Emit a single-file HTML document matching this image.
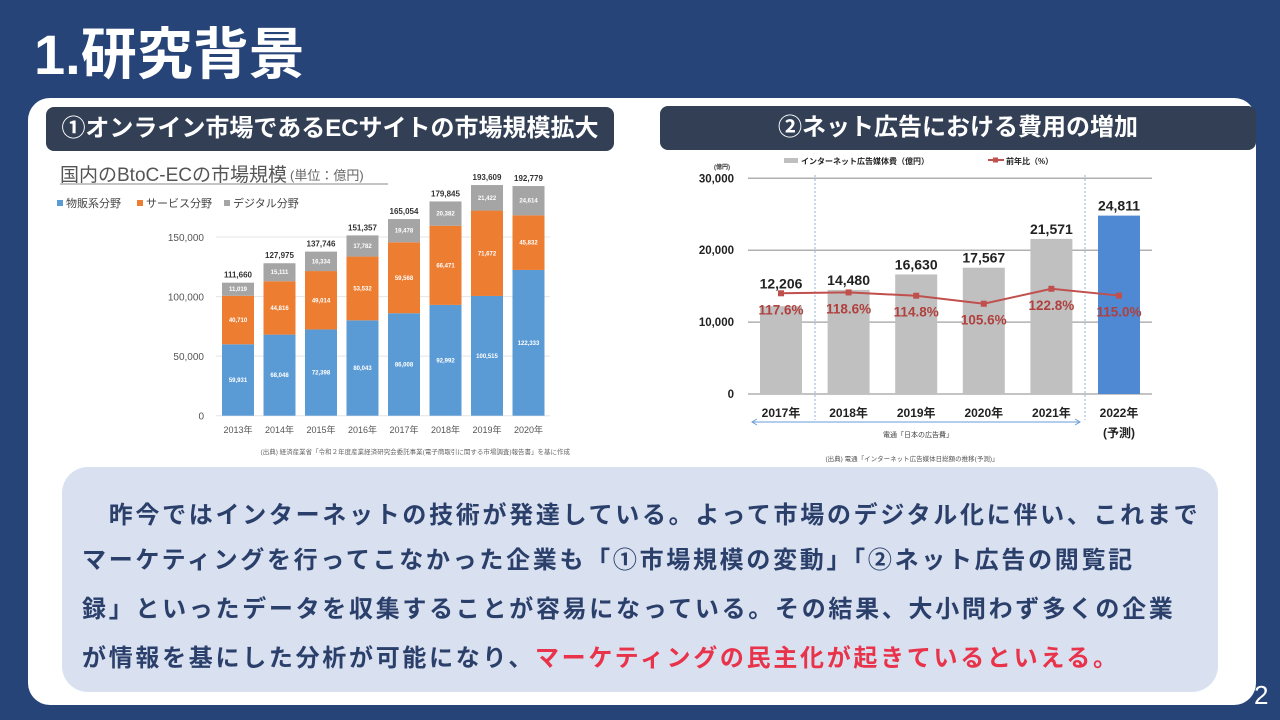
<!DOCTYPE html>
<html><head><meta charset="utf-8">
<style>
body{margin:0;width:1280px;height:720px;background:#264478;overflow:hidden;position:relative;font-family:"Liberation Sans","Noto Sans CJK JP",sans-serif;}
.abs{position:absolute;}
#title{left:34px;top:10px;color:#fff;font-size:56px;font-weight:bold;letter-spacing:0px;}
#panel{left:28px;top:98px;width:1228px;height:607px;background:#fff;border-radius:22px;}
.hdr{background:#323f54;color:#fff;font-size:24px;font-weight:bold;border-radius:8px;text-align:center;line-height:44px;}
#textbox{left:62px;top:467px;width:1156px;height:225px;background:#d9e1f0;border-radius:26px;}
.line{position:absolute;left:20px;font-size:24px;font-weight:bold;color:#2b3f6b;letter-spacing:2.7px;white-space:nowrap;}
.red{color:#e8334a;}
#pnum{left:1254px;top:680px;color:#fff;font-size:26px;}
svg text{font-family:"Liberation Sans","Noto Sans CJK JP",sans-serif;}
</style></head><body>
<div id="title" class="abs">1.研究背景</div>
<div id="panel" class="abs"></div>
<div class="abs hdr" style="left:46px;top:107px;width:568px;height:44px;">①オンライン市場であるECサイトの市場規模拡大</div>
<div class="abs hdr" style="left:660px;top:106px;width:596px;height:44px;">②ネット広告における費用の増加</div>

<svg class="abs" style="left:0;top:0" width="1280" height="720" id="charts">
<g id="left-chart"></g>
<g id="right-chart"></g>
</svg>

<div id="textbox" class="abs">
<div class="line" style="top:28px">&#12288;昨今ではインターネットの技術が発達している。よって市場のデジタル化に伴い、これまで</div>
<div class="line" style="top:73px">マーケティングを行ってこなかった企業も「①市場規模の変動」「②ネット広告の閲覧記</div>
<div class="line" style="top:122px">録」といったデータを収集することが容易になっている。その結果、大小問わず多くの企業</div>
<div class="line" style="top:171px">が情報を基にした分析が可能になり、<span class="red">マーケティングの民主化が起きているといえる。</span></div>
</div>
<div id="pnum" class="abs">2</div>

<script>
const ecYears=["2013年","2014年","2015年","2016年","2017年","2018年","2019年","2020年"];
const ecGoods=[59931,68048,72398,80043,86008,92992,100515,122333];
const ecService=[40710,44816,49014,53532,59568,66471,71672,45832];
const ecDigital=[11019,15111,16334,17782,19478,20382,21422,24614];
const ecTotals=[111660,127975,137746,151357,165054,179845,193609,192779];
const ecTicks=[0,50000,100000,150000];

const adYears=["2017年","2018年","2019年","2020年","2021年","2022年"];
const adSpend=[12206,14480,16630,17567,21571,24811];
const adGrowth=[117.6,118.6,114.8,105.6,122.8,115.0];
const adTicks=[0,10000,20000,30000];

const NS="http://www.w3.org/2000/svg";
function mk(parent,tag,attrs,txt){const e=document.createElementNS(NS,tag);for(const k in attrs)e.setAttribute(k,attrs[k]);if(txt!==undefined)e.textContent=txt;parent.appendChild(e);return e;}
const fmt=v=>v.toLocaleString("en-US");

// Left chart
const L=document.getElementById("left-chart");
const ly=v=>415.7-v*(178.7/150000);
const lx=i=>238+i*41.5;
let t=mk(L,"text",{x:60,y:181,"font-size":19,fill:"#555"},"国内のBtoC-ECの市場規模");

mk(L,"text",{x:290,y:180,"font-size":13,fill:"#666"},"(単位：億円)");
mk(L,"line",{x1:60,y1:184,x2:388,y2:184,stroke:"#888","stroke-width":1});
const legs=[["物販系分野","#5b9bd5",57],["サービス分野","#ed7d31",137],["デジタル分野","#a5a5a5",224]];
legs.forEach(l=>{const r=mk(L,"rect",{x:l[2],y:200,width:6,height:6,fill:l[1]});

const tx=mk(L,"text",{x:l[2]+9,y:207,"font-size":11,fill:"#444"},l[0]);
});
ecTicks.forEach(v=>{mk(L,"line",{x1:216,y1:ly(v),x2:550,y2:ly(v),stroke:"#e4e4e4"});
const tx=mk(L,"text",{x:204,y:ly(v)+4,"font-size":10,fill:"#555","text-anchor":"end"},fmt(v));
});
ecYears.forEach((yr,i)=>{
 const segs=[[ecGoods[i],"#5b9bd5"],[ecService[i],"#ed7d31"],[ecDigital[i],"#a5a5a5"]];
 let base=0;
 segs.forEach((s,j)=>{const y0=ly(base),y1=ly(base+s[0]);
  const r=mk(L,"rect",{x:lx(i)-16,y:y1,width:32,height:y0-y1,fill:s[1]});
  
  mk(L,"text",{x:lx(i),y:(y0+y1)/2+2,"font-size":6,fill:"#fff","text-anchor":"middle","font-weight":"bold"},fmt(s[0]));
  base+=s[0];});
 const tt=mk(L,"text",{x:lx(i),y:ly(ecTotals[i])-5,"font-size":8,fill:"#333","text-anchor":"middle","font-weight":"bold"},fmt(ecTotals[i]));
 
 const xl=mk(L,"text",{x:lx(i),y:433,"font-size":9,fill:"#555","text-anchor":"middle"},yr);
 
});
mk(L,"text",{x:570,y:454,"font-size":6.5,fill:"#666","text-anchor":"end"},"(出典) 経済産業省「令和２年度産業経済研究会委託事業(電子商取引に関する市場調査)報告書」を基に作成");

// Right chart
const R=document.getElementById("right-chart");
const ry=v=>394-v*(215.7/30000);
const rx=i=>781+i*67.6;
const py=p=>293.3-(p-117.6)*0.87;
adTicks.forEach(v=>{mk(R,"line",{x1:748,y1:ry(v),x2:1152,y2:ry(v),stroke:"#b0b0b0","stroke-width":1.5});
const tx=mk(R,"text",{x:734,y:ry(v)+4,"font-size":11.5,fill:"#222","text-anchor":"end","font-weight":"bold"},fmt(v));
});
mk(R,"text",{x:722,y:169,"font-size":6,fill:"#333","text-anchor":"middle","font-weight":"bold"},"(億円)");
mk(R,"rect",{x:784,y:158,width:14,height:5,fill:"#bfbfbf"});
mk(R,"text",{x:801,y:164,"font-size":8,fill:"#222","font-weight":"bold"},"インターネット広告媒体費（億円）");
mk(R,"line",{x1:988,y1:160,x2:1004,y2:160,stroke:"#c0504d","stroke-width":2});
mk(R,"rect",{x:993,y:157.5,width:5,height:5,fill:"#c0504d"});
mk(R,"text",{x:1006,y:164,"font-size":8,fill:"#222","font-weight":"bold"},"前年比（%）");
[815,1085].forEach(x=>mk(R,"line",{x1:x,y1:175,x2:x,y2:420,stroke:"#8fb0d8","stroke-dasharray":"2,2"}));
adYears.forEach((yr,i)=>{
 const last=i===adYears.length-1;
 const top=ry(adSpend[i]);
 const r=mk(R,"rect",{x:rx(i)-21,y:top,width:42,height:ry(0)-top,fill:last?"#4f88d3":"#c0c0c0"});
 
 const ly2=Math.min(top,py(adGrowth[i]))-5;
 const l=mk(R,"text",{x:rx(i),y:ly2,"font-size":14,fill:"#222","text-anchor":"middle","font-weight":"bold"},fmt(adSpend[i]));
 
 const xl=mk(R,"text",{x:rx(i),y:417,"font-size":12,fill:"#222","text-anchor":"middle","font-weight":"bold"},yr);
 
});
mk(R,"text",{x:rx(5),y:437,"font-size":12,fill:"#222","text-anchor":"middle","font-weight":"bold"},"(予測)");
let pts=adGrowth.map((p,i)=>rx(i)+","+py(p)).join(" ");
const pl=mk(R,"polyline",{points:pts,fill:"none",stroke:"#c0504d","stroke-width":2});

adGrowth.forEach((p,i)=>{const m=mk(R,"rect",{x:rx(i)-3,y:py(p)-3,width:6,height:6,fill:"#c0504d"});
 
 const l=mk(R,"text",{x:rx(i),y:py(p)+21,"font-size":13.5,fill:"#b0403d","text-anchor":"middle","font-weight":"bold"},p.toFixed(1)+"%");
 });
mk(R,"line",{x1:752,y1:422,x2:1080,y2:422,stroke:"#6a9bd8","stroke-width":1});
mk(R,"path",{d:"M757,419 L752,422 L757,425 M1075,419 L1080,422 L1075,425",stroke:"#6a9bd8",fill:"none"});
mk(R,"text",{x:918,y:437,"font-size":7,fill:"#444","text-anchor":"middle"},"電通「日本の広告費」");
mk(R,"text",{x:912,y:461,"font-size":6.5,fill:"#555","text-anchor":"middle"},"(出典) 電通「インターネット広告媒体日総額の推移(予測)」");
</script>
</body></html>
